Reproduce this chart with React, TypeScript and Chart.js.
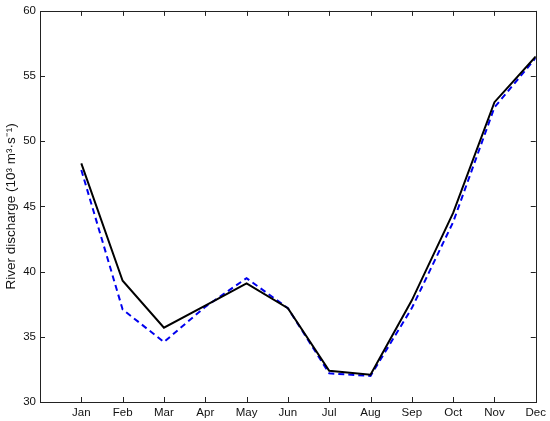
import React, { useEffect, useRef } from "react";
import { Chart, registerables } from "chart.js";

Chart.register(...registerables);

const months = ["Jan", "Feb", "Mar", "Apr", "May", "Jun", "Jul", "Aug", "Sep", "Oct", "Nov", "Dec"];
const seriesSolid = [48.3, 39.3, 35.7, 37.4, 39.1, 37.2, 32.4, 32.1, 37.8, 44.5, 53.0, 56.5];
const seriesDashed = [47.8, 37.1, 34.6, 37.3, 39.5, 37.2, 32.2, 32.0, 37.2, 43.8, 52.6, 56.4];
const yTicks = [30, 35, 40, 45, 50, 55, 60];

const FONT = "'Liberation Sans', Arial, Helvetica, sans-serif";

const frame = {
  id: "frame",
  afterDatasetsDraw(chart: any) {
    const { ctx, chartArea: a, scales } = chart;
    const x = scales.x, y = scales.y;
    ctx.save();
    ctx.strokeStyle = "#222";
    ctx.lineWidth = 1;
    ctx.strokeRect(Math.round(a.left) + 0.5, Math.round(a.top) + 0.5, Math.round(a.right - a.left), Math.round(a.bottom - a.top));
    const L = 5;
    ctx.beginPath();
    for (let i = 1; i <= months.length; i++) {
      const px = Math.round(x.getPixelForValue(i)) + 0.5;
      ctx.moveTo(px, a.bottom); ctx.lineTo(px, a.bottom - L);
      ctx.moveTo(px, a.top); ctx.lineTo(px, a.top + L);
    }
    for (const v of yTicks) {
      const py = Math.round(y.getPixelForValue(v)) + 0.5;
      ctx.moveTo(a.left, py); ctx.lineTo(a.left + L, py);
      ctx.moveTo(a.right, py); ctx.lineTo(a.right - L, py);
    }
    ctx.stroke();
    ctx.restore();
  },
};

export default function App() {
  const ref = useRef<HTMLCanvasElement>(null);
  useEffect(() => {
    const chart = new Chart(ref.current!, {
      type: "line",
      data: {
        datasets: [
          {
            data: seriesSolid.map((v, i) => ({ x: i + 1, y: v })),
            borderColor: "#000000",
            borderWidth: 2,
            pointRadius: 0,
            tension: 0,
          },
          {
            data: seriesDashed.map((v, i) => ({ x: i + 1, y: v })),
            borderColor: "#0000ee",
            borderWidth: 2,
            borderDash: [6, 4],
            pointRadius: 0,
            tension: 0,
          },
        ],
      },
      options: {
        animation: false,
        responsive: false,
        maintainAspectRatio: false,
        layout: { padding: { top: 8, right: 12, left: 0, bottom: 0 } },
        plugins: { legend: { display: false }, tooltip: { enabled: false } },
        scales: {
          x: {
            type: "linear",
            min: 0,
            max: 12,
            grid: { display: false, drawTicks: false },
            border: { display: false },
            afterBuildTicks: (s: any) => {
              s.ticks = months.map((_, i) => ({ value: i + 1 }));
            },
            afterFit: (s: any) => { s.height = 19; },
            ticks: {
              autoSkip: false,
              maxRotation: 0,
              padding: 4,
              color: "#111",
              font: { family: FONT, size: 11.5 },
              callback: (v: any) => months[Number(v) - 1] ?? "",
            },
          },
          y: {
            min: 30,
            max: 60,
            grid: { display: false, drawTicks: false },
            border: { display: false },
            afterBuildTicks: (s: any) => {
              s.ticks = yTicks.map((v) => ({ value: v }));
            },
            afterFit: (s: any) => { s.width = 40; },
            ticks: {
              padding: 4,
              color: "#111",
              font: { family: FONT, size: 11.5 },
            },
            title: {
              display: true,
              text: "River discharge (10³ m³·s⁻¹)",
              color: "#111",
              font: { family: FONT, size: 13.5 },
              padding: { top: 3, bottom: 0 },
            },
          },
        },
      },
      plugins: [frame],
    });
    return () => chart.destroy();
  }, []);
  return (
    <div style={{ position: "fixed", left: 0, top: 0, width: 550, height: 421, background: "#fff" }}>
      <canvas ref={ref} width={550} height={421} style={{ width: 550, height: 421 }} />
    </div>
  );
}
